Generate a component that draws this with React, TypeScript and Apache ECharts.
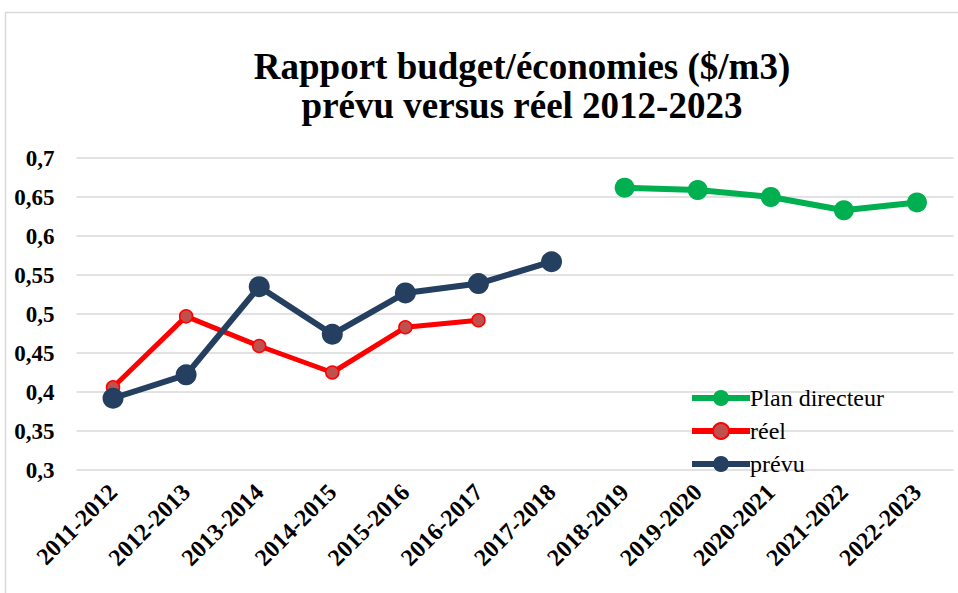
import React, { useEffect, useRef } from "react";
import * as echarts from "echarts";

const categories = [
  "2011-2012", "2012-2013", "2013-2014", "2014-2015", "2015-2016", "2016-2017",
  "2017-2018", "2018-2019", "2019-2020", "2020-2021", "2021-2022", "2022-2023",
];
const planDirecteur = [null, null, null, null, null, null, null, 0.662, 0.659, 0.65, 0.633, 0.643];
const reel = [0.406, 0.497, 0.459, 0.425, 0.483, 0.492, null, null, null, null, null, null];
const prevu = [0.392, 0.422, 0.535, 0.474, 0.527, 0.539, 0.567, null, null, null, null, null];
const titleLines = ["Rapport budget/économies ($/m3)", "prévu versus réel 2012-2023"];

const SERIF = "Liberation Serif, Times New Roman, serif";

export default function App() {
  const ref = useRef<HTMLDivElement>(null);
  useEffect(() => {
    document.body.style.margin = "0";
    const chart = echarts.init(ref.current!, null, { renderer: "svg" });
    chart.setOption({
      animation: false,
      backgroundColor: "#ffffff",
      title: {
        text: titleLines.join("\n"),
        left: 517,
        top: 42,
        textAlign: "center",
        textStyle: {
          fontFamily: SERIF,
          fontSize: 37,
          fontWeight: "bold",
          color: "#000000",
          lineHeight: 39,
        },
      },
      graphic: [
        {
          type: "rect",
          shape: { x: 5.5, y: 12.5, width: 1000, height: 700 },
          style: { fill: "none", stroke: "#d9d9d9", lineWidth: 1.5 },
          silent: true,
          z: -10,
        },
      ],
      legend: {
        orient: "vertical",
        left: 684,
        top: 381,
        itemWidth: 58,
        itemHeight: 20,
        itemGap: 9,
        lineStyle: { width: 6 },
        textStyle: { fontFamily: SERIF, fontSize: 24, color: "#000000", padding: [0, 0, 0, -5] },
        data: ["Plan directeur", "réel", "prévu"],
      },
      grid: { left: 76.5, right: 4.5, top: 158, bottom: 123, containLabel: false },
      xAxis: {
        type: "category",
        data: categories,
        boundaryGap: true,
        axisLine: { show: false },
        axisTick: { show: false },
        axisLabel: {
          interval: 0,
          rotate: 45,
          margin: 18,
          fontFamily: SERIF,
          fontSize: 24,
          fontWeight: "bold",
          color: "#000000",
        },
      },
      yAxis: {
        type: "value",
        min: 0.3,
        max: 0.7,
        interval: 0.05,
        axisLine: { show: false },
        axisTick: { show: false },
        splitLine: { lineStyle: { color: "#d9d9d9", width: 1.5 } },
        axisLabel: {
          margin: 22,
          fontFamily: SERIF,
          fontSize: 23,
          fontWeight: "bold",
          color: "#000000",
          formatter: (v: number) => String(Math.round(v * 100) / 100).replace(".", ","),
        },
      },
      series: [
        {
          name: "Plan directeur",
          type: "line",
          data: planDirecteur,
          symbol: "circle",
          symbolSize: 20,
          lineStyle: { color: "#00b050", width: 6 },
          itemStyle: { color: "#00b050" },
        },
        {
          name: "réel",
          type: "line",
          data: reel,
          symbol: "circle",
          symbolSize: 13,
          lineStyle: { color: "#ff0000", width: 5 },
          itemStyle: { color: "#c0504d", borderColor: "#ff0000", borderWidth: 1.5 },
        },
        {
          name: "prévu",
          type: "line",
          data: prevu,
          symbol: "circle",
          symbolSize: 21,
          lineStyle: { color: "#243f60", width: 6 },
          itemStyle: { color: "#243f60" },
        },
      ],
    });
    return () => chart.dispose();
  }, []);
  return <div ref={ref} style={{ width: 958, height: 593 }} />;
}
